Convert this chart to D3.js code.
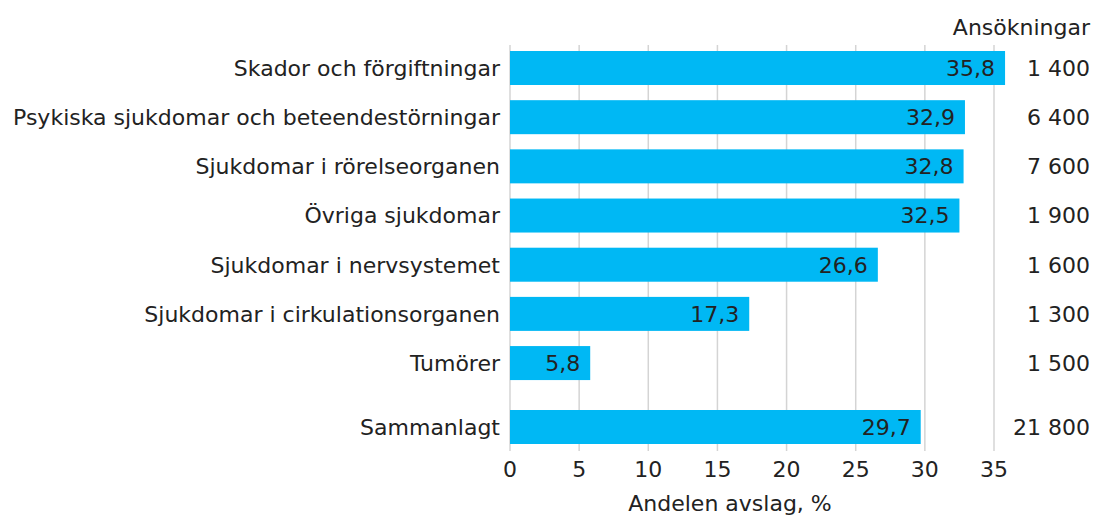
<!DOCTYPE html>
<html>
<head>
<meta charset="utf-8">
<script src="https://cdn.jsdelivr.net/npm/d3@7"></script>
<style>
  body { margin: 0; background: #fff; }
  svg text { font-family: "DejaVu Sans", Verdana, sans-serif; fill: #222; font-size: 22px; }
</style>
</head>
<body>
<svg id="chart" width="1099" height="518"></svg>
<script>
const categories = ["Skador och förgiftningar", "Psykiska sjukdomar och beteendestörningar", "Sjukdomar i rörelseorganen",
    "Övriga sjukdomar", "Sjukdomar i nervsystemet", "Sjukdomar i cirkulationsorganen", "Tumörer", "Sammanlagt"];
const shares = [35.8, 32.9, 32.8, 32.5, 26.6, 17.3, 5.8, 29.7];
const applications = ["1 400", "6 400", "7 600", "1 900", "1 600", "1 300", "1 500", "21 800"];
const xTicks = [0, 5, 10, 15, 20, 25, 30, 35];

const fmt = d3.formatLocale({decimal: ",", thousands: " ", grouping: [3], currency: ["", ""]}).format(".1f");

const svg = d3.select("#chart");

const x = d3.scaleLinear().domain([0, 35]).range([510, 994]);

// rows sit on an index scale; the total row gets a little extra gap
const rowIndex = categories.map((c, i) => i < categories.length - 1 ? i : i + 0.3);
const y = d3.scaleLinear().domain([0, 7.3]).range([68, 427]);
const barH = 34;

// gridlines
svg.append("g").selectAll("line")
    .data(xTicks).join("line")
    .attr("x1", d => x(d)).attr("x2", d => x(d))
    .attr("y1", 45).attr("y2", 451)
    .attr("stroke", "#d4d4d4").attr("stroke-width", 1.5);

const rows = svg.append("g").selectAll("g.row")
    .data(categories).join("g").attr("class", "row")
    .attr("transform", (d, i) => `translate(0,${y(rowIndex[i])})`);

rows.append("rect")
    .attr("x", x(0))
    .attr("y", -barH / 2)
    .attr("width", (d, i) => x(shares[i]) - x(0))
    .attr("height", barH)
    .attr("fill", "#00b8f4");

rows.append("text")
    .attr("x", (d, i) => x(shares[i]) - 10)
    .attr("dy", "0.36em")
    .attr("text-anchor", "end")
    .text((d, i) => fmt(shares[i]));

rows.append("text")
    .attr("x", 500)
    .attr("dy", "0.36em")
    .attr("text-anchor", "end")
    .text(d => d);

rows.append("text")
    .attr("x", 1090)
    .attr("dy", "0.36em")
    .attr("text-anchor", "end")
    .text((d, i) => applications[i]);

svg.append("text")
    .attr("x", 1090).attr("y", 27)
    .attr("dy", "0.36em")
    .attr("text-anchor", "end")
    .text("Ansökningar");

// x axis labels
svg.append("g").selectAll("text")
    .data(xTicks).join("text")
    .attr("x", d => x(d)).attr("y", 469)
    .attr("dy", "0.36em")
    .attr("text-anchor", "middle")
    .text(d => d);

svg.append("text")
    .attr("x", 730).attr("y", 503)
    .attr("dy", "0.36em")
    .attr("text-anchor", "middle")
    .text("Andelen avslag, %");
</script>
</body>
</html>
